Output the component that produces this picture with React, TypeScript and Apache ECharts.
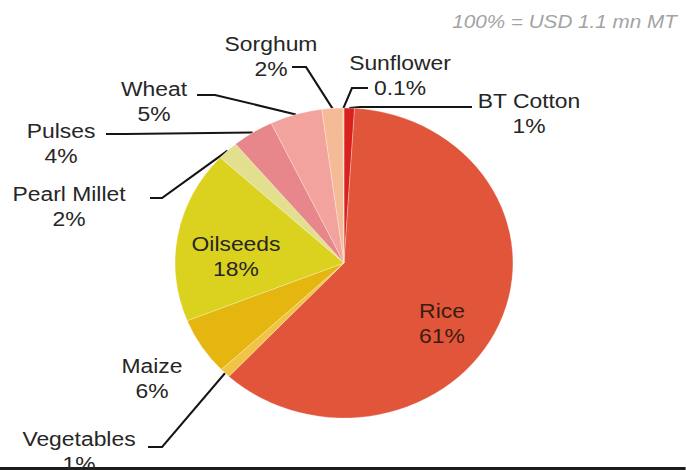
import React, { useEffect, useRef } from "react";
import * as echarts from "echarts";

// Data (clockwise from 12 o'clock)
const categories = ["BT Cotton", "Rice", "Vegetables", "Maize", "Oilseeds", "Pearl Millet", "Pulses", "Wheat", "Sorghum", "Sunflower"];
const shares = [1, 61, 1, 6, 18, 2, 4, 5, 2, 0.1];
const sliceColors = ["#d92220", "#e1563a", "#f1c445", "#e5b60f", "#dbd21f", "#e2e08e", "#e8878b", "#f3a39e", "#f5ba96", "#f7d2b4"];
const titleText = "100% = USD 1.1 mn MT";

// Layout helpers (reference pixel coordinates; horizontal stretch applied via S)
const S = 1.09;
const W = 686;
const H = 470;
const LABEL_POS: Record<string, [number, number]> = {
  "BT Cotton": [529, 113],
  "Rice": [442, 323],
  "Vegetables": [79, 451],
  "Maize": [152, 378],
  "Oilseeds": [236, 256],
  "Pearl Millet": [69, 206],
  "Pulses": [61, 143],
  "Wheat": [154, 101],
  "Sorghum": [271, 56],
  "Sunflower": [400, 75],
};
const GUIDE_POS: Record<string, [[number, number], [number, number]]> = {
  "BT Cotton": [[360, 107], [472, 107]],
  "Vegetables": [[162, 447], [148, 447]],
  "Pearl Millet": [[162, 198], [150, 198]],
  "Pulses": [[125, 134], [106, 134]],
  "Wheat": [[215, 95], [197, 95]],
  "Sorghum": [[306, 67], [292, 67]],
  "Sunflower": [[352, 88], [368, 88]],
};
const NO_LINE = ["Rice", "Oilseeds", "Maize"];

export default function App() {
  const ref = useRef<HTMLDivElement>(null);
  useEffect(() => {
    if (!ref.current) return;
    const chart = echarts.init(ref.current, null, { renderer: "svg" });
    const font = "'Liberation Sans', Arial, sans-serif";
    chart.setOption({
      animation: false,
      backgroundColor: "#ffffff",
      title: {
        text: titleText,
        right: 3 / S,
        top: 7,
        textStyle: { fontSize: 19, fontStyle: "italic", fontWeight: "normal", color: "#a3a3a3", fontFamily: font },
      },
      graphic: [
        { type: "rect", shape: { x: 0, y: 467, width: W / S, height: 3 }, style: { fill: "#1c1c1c" } },
      ],
      series: [
        {
          type: "pie",
          center: [344 / S, 263],
          radius: 155,
          startAngle: 90,
          clockwise: true,
          avoidLabelOverlap: false,
          itemStyle: { borderColor: "rgba(255,255,255,0.45)", borderWidth: 0.6 },
          label: {
            show: true,
            position: "outside",
            formatter: "{b}\n{c}%",
            fontSize: 21,
            lineHeight: 25,
            color: "#262626",
            fontFamily: font,
          },
          labelLine: { show: true, length: 10, length2: 10, smooth: false, lineStyle: { color: "#151515", width: 2 } },
          labelLayout: (params: any) => {
            const name = categories[params.dataIndex];
            const pos = LABEL_POS[name];
            const res: any = { x: pos[0] / S, y: pos[1], align: "center", verticalAlign: "middle" };
            const g = GUIDE_POS[name];
            if (g && params.labelLinePoints && params.labelLinePoints[0]) {
              const p0 = params.labelLinePoints[0];
              res.labelLinePoints = [
                [p0[0], p0[1]],
                [g[0][0] / S, g[0][1]],
                [g[1][0] / S, g[1][1]],
              ];
            }
            return res;
          },
          data: categories.map((c, i) => ({
            name: c,
            value: shares[i],
            itemStyle: { color: sliceColors[i] },
            labelLine: { show: NO_LINE.indexOf(c) < 0 },
            label: c === "Rice" ? { color: "#3a1c12" } : undefined,
          })),
        },
      ],
    });
    return () => chart.dispose();
  }, []);
  return (
    <div
      ref={ref}
      style={{
        position: "fixed",
        left: 0,
        top: 0,
        width: W / S,
        height: H,
        transform: `scaleX(${S})`,
        transformOrigin: "0 0",
      }}
    />
  );
}
